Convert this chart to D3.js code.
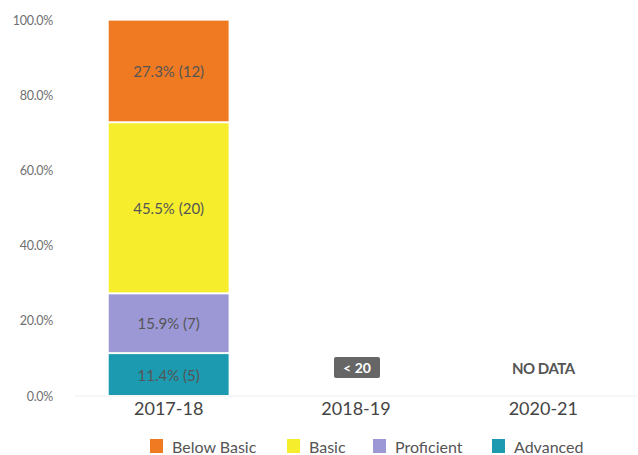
<!DOCTYPE html>
<html><head><meta charset="utf-8">
<script src="https://cdn.jsdelivr.net/npm/d3@7"></script>
<style>body{margin:0;background:#fff;font-family:Lato,"Open Sans",sans-serif;}</style>
</head><body><svg id="c" width="638" height="455"></svg>
<script>
const categories = ["2017-18", "2018-19", "2020-21"];
const series = ["Advanced", "Proficient", "Basic", "Below Basic"];
const percents = { "Advanced": [11.4, null, null], "Proficient": [15.9, null, null], "Basic": [45.5, null, null], "Below Basic": [27.3, null, null] };
const counts = { "Advanced": [5, null, null], "Proficient": [7, null, null], "Basic": [20, null, null], "Below Basic": [12, null, null] };
const statusLabels = [null, "< 20", "NO DATA"];
const yTicks = [0, 20, 40, 60, 80, 100];
const legendOrder = ["Below Basic", "Basic", "Proficient", "Advanced"];
const colors = { "Below Basic": "#f07a22", "Basic": "#f6ee2c", "Proficient": "#9c98d6", "Advanced": "#1b9ab0" };

const svg = d3.select("#c");
const x = d3.scaleBand().domain(categories).range([75, 637]).paddingInner(0.36).paddingOuter(0.18);
const y = d3.scaleLinear().domain([0, 100]).range([396, 20]);

// baseline
svg.append("line").attr("x1", 75).attr("x2", 637).attr("y1", y(0)).attr("y2", y(0)).attr("stroke", "#eee").attr("stroke-width", 1);

// y axis
const yAxis = svg.append("g").attr("transform", "translate(53,0)")
  .call(d3.axisLeft(y).tickValues(yTicks).tickSize(0).tickPadding(0).tickFormat(d => d.toFixed(1) + "%"));
yAxis.select(".domain").remove();
yAxis.selectAll("text").attr("fill", "#6f6f6f").style("font-size", "12.5px").style("font-family", "Lato, sans-serif").style("letter-spacing", "-0.3px");

// stacked bars
categories.forEach((c, i) => {
  let acc = 0;
  series.forEach(s => {
    const v = percents[s][i];
    if (v == null) return;
    const y0 = y(acc), y1 = y(acc + v);
    acc += v;
    svg.append("rect").attr("x", x(c)).attr("width", x.bandwidth())
      .attr("y", y1 + 1).attr("height", Math.max(0, y0 - y1 - 2)).attr("fill", colors[s]);
    svg.append("text").attr("x", x(c) + x.bandwidth() / 2).attr("y", (y0 + y1) / 2)
      .attr("text-anchor", "middle").attr("dominant-baseline", "central")
      .attr("fill", "#555").style("font-size", "15px")
      .text(v.toFixed(1) + "% (" + counts[s][i] + ")");
  });
});

// status labels
categories.forEach((c, i) => {
  const lab = statusLabels[i];
  if (!lab) return;
  const cx = x(c) + x.bandwidth() / 2;
  if (lab === "< 20") {
    svg.append("rect").attr("x", cx - 22).attr("y", 357).attr("width", 46).attr("height", 21).attr("rx", 2).attr("fill", "#666");
    svg.append("text").attr("x", cx + 1).attr("y", 367.5).attr("text-anchor", "middle").attr("dominant-baseline", "central")
      .attr("fill", "#fff").style("font-size", "14px").style("font-weight", "bold").text(lab);
  } else {
    svg.append("text").attr("x", cx).attr("y", 368).attr("text-anchor", "middle").attr("dominant-baseline", "central")
      .attr("fill", "#555").style("font-size", "15px").style("font-weight", "bold").style("letter-spacing", "-0.5px").text(lab);
  }
});

// x axis labels
const xAxis = svg.append("g").attr("transform", "translate(0," + 396 + ")")
  .call(d3.axisBottom(x).tickSize(0).tickPadding(6));
xAxis.select(".domain").remove();
xAxis.selectAll("text").attr("fill", "#444").style("font-size", "18px").style("font-family", "Lato, sans-serif");

// legend
const legendX = [150, 287, 373, 492];
legendOrder.forEach((s, i) => {
  const g = svg.append("g").attr("transform", "translate(" + legendX[i] + ",439)");
  g.append("rect").attr("width", 13).attr("height", 14).attr("fill", colors[s]);
  g.append("text").attr("x", 22).attr("y", 7).attr("dominant-baseline", "central")
    .attr("fill", "#555").style("font-size", "16px").text(s);
});
</script></body></html>
